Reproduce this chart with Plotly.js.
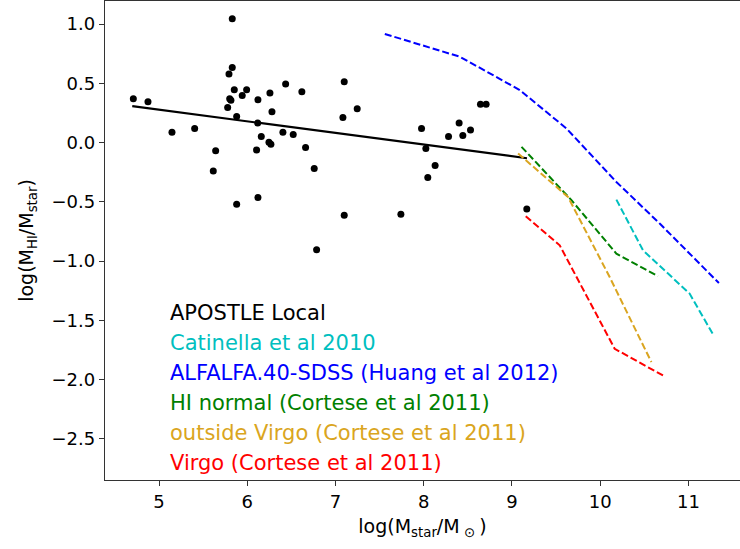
<!DOCTYPE html>
<html>
<head>
<meta charset="utf-8">
<script src="https://cdn.plot.ly/plotly-3.0.1.min.js"></script>
<style>html,body{margin:0;padding:0;background:#fff;}#chart{width:740px;height:549px;}</style>
</head>
<body>
<div id="chart"></div>
<script>
// APOSTLE Local galaxies
const apostleX = [4.709,4.875,5.147,5.404,5.830,5.830,5.793,5.853,5.993,5.943,5.801,5.815,5.778,5.880,6.121,6.257,6.435,6.619,6.280,6.118,6.159,6.404,6.521,6.246,6.268,6.106,6.661,5.642,5.615,6.759,7.099,7.084,7.246,7.975,8.024,8.046,5.880,6.121,7.099,7.741,6.786,8.129,8.281,8.401,8.443,8.530,8.643,8.707,9.168];
const apostleY = [0.369,0.344,0.088,0.119,1.045,0.634,0.578,0.445,0.445,0.398,0.369,0.356,0.296,0.220,0.361,0.417,0.493,0.428,0.259,0.164,0.052,0.088,0.068,0.003,-0.014,-0.062,-0.041,-0.070,-0.239,-0.219,0.513,0.212,0.285,0.119,-0.050,-0.295,-0.520,-0.464,-0.613,-0.605,-0.903,-0.193,0.052,0.164,0.060,0.107,0.324,0.324,-0.560];
// linear fit to APOSTLE
const fitX = [4.697, 9.170];
const fitY = [0.307, -0.132];
// Catinella et al 2010
const catX = [10.183, 10.485, 11.013, 11.278];
const catY = [-0.481, -0.909, -1.274, -1.618];
// ALFALFA.40-SDSS (Huang et al 2012)
const alfX = [7.559, 8.409, 9.088, 9.617, 10.183, 10.674, 11.345];
const alfY = [0.916, 0.724, 0.443, 0.119, -0.332, -0.683, -1.185];
// HI normal (Cortese et al 2011)
const hinX = [9.108, 9.674, 10.183, 10.654];
const hinY = [-0.036, -0.486, -0.937, -1.126];
// outside Virgo (Cortese et al 2011)
const outX = [9.069, 9.635, 10.107, 10.580];
const outY = [-0.092, -0.459, -1.134, -1.852];
// Virgo (Cortese et al 2011)
const virX = [9.156, 9.541, 10.164, 10.712];
const virY = [-0.622, -0.867, -1.739, -1.965];

const legendLabels = ["APOSTLE Local","Catinella et al 2010","ALFALFA.40-SDSS (Huang et al 2012)","HI normal (Cortese et al 2011)","outside Virgo (Cortese et al 2011)","Virgo (Cortese et al 2011)"];
const legendColors = ["#000000","#00bfbf","#0000ff","#008000","#daa520","#ff0000"];
const legendY = [-1.441,-1.689,-1.943,-2.196,-2.449,-2.703];

const dash = "7px,3px";
const traces = [
  {x: apostleX, y: apostleY, mode: 'markers', type: 'scatter', marker: {color: '#000', size: 7}},
  {x: fitX, y: fitY, mode: 'lines', type: 'scatter', line: {color: '#000', width: 2.2}},
  {x: catX, y: catY, mode: 'lines', type: 'scatter', line: {color: legendColors[1], width: 2, dash: dash}},
  {x: alfX, y: alfY, mode: 'lines', type: 'scatter', line: {color: legendColors[2], width: 2, dash: dash}},
  {x: hinX, y: hinY, mode: 'lines', type: 'scatter', line: {color: legendColors[3], width: 2, dash: dash}},
  {x: outX, y: outY, mode: 'lines', type: 'scatter', line: {color: legendColors[4], width: 2, dash: dash}},
  {x: virX, y: virY, mode: 'lines', type: 'scatter', line: {color: legendColors[5], width: 2, dash: dash}}
];

const annotations = legendLabels.map((t, i) => ({
  x: 5.102, y: legendY[i], xref: 'x', yref: 'y', text: t, showarrow: false,
  xanchor: 'left', yanchor: 'middle', font: {family: 'DejaVu Sans', size: 21, color: legendColors[i]}
}));

const layout = {
  width: 740, height: 549,
  margin: {l: 105, r: 0, t: 1, b: 69},
  paper_bgcolor: '#fff', plot_bgcolor: '#fff',
  showlegend: false,
  font: {family: 'DejaVu Sans', color: '#000'},
  xaxis: {
    range: [4.388, 11.584], tickvals: [5,6,7,8,9,10,11], ticktext: ['5','6','7','8','9','10','11'],
    showgrid: false, zeroline: false, showline: true, mirror: true, linecolor: '#333', linewidth: 1.3,
    ticks: 'outside', ticklen: 5, tickcolor: '#333', tickfont: {size: 18, family: 'DejaVu Sans'},
    title: {text: 'log(M<sub>star</sub>/M<sub> ⊙ </sub>)', font: {size: 19, family: 'DejaVu Sans'}, standoff: 8}
  },
  yaxis: {
    range: [-2.846, 1.194], tickvals: [1.0,0.5,0.0,-0.5,-1.0,-1.5,-2.0,-2.5],
    ticktext: ['1.0','0.5','0.0','−0.5','−1.0','−1.5','−2.0','−2.5'],
    showgrid: false, zeroline: false, showline: true, linecolor: '#333', linewidth: 1.3,
    ticks: 'outside', ticklen: 5, tickcolor: '#333', tickfont: {size: 18, family: 'DejaVu Sans'},
    title: {text: 'log(M<sub>HI</sub>/M<sub>star</sub>)', font: {size: 19, family: 'DejaVu Sans'}, standoff: 12}
  },
  annotations: annotations
};

Plotly.newPlot('chart', traces, layout, {displayModeBar: false, staticPlot: true});
</script>
</body>
</html>
